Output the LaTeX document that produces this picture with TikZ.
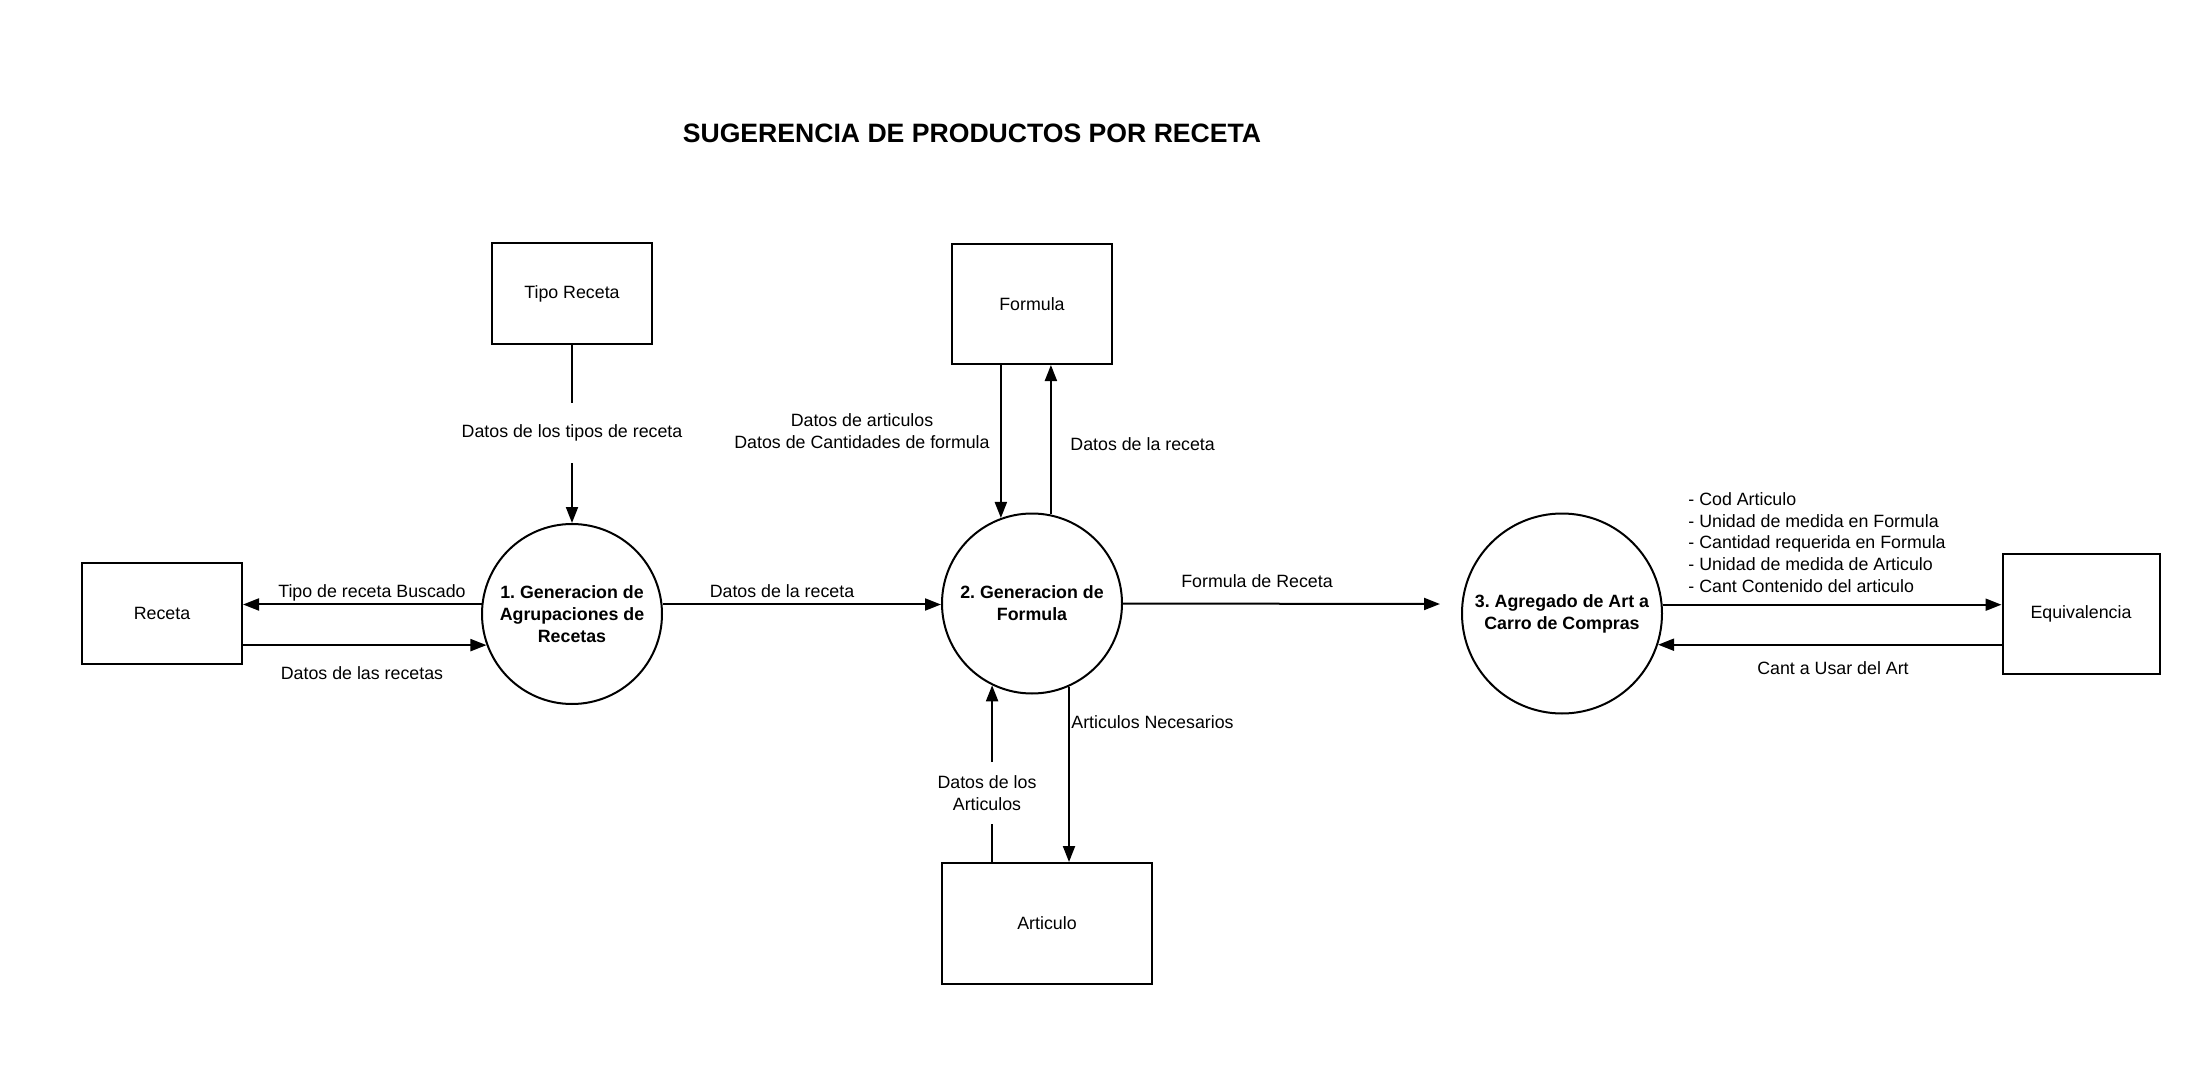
\documentclass[tikz,border=0pt]{standalone}
\usepackage{fontspec}
\setmainfont{Liberation Sans}
\usetikzlibrary{arrows.meta}
\newcommand\lblfont{\fontsize{8.9}{10.9}\selectfont}
\frenchspacing
\begin{document}
\begin{tikzpicture}[x=0.5pt,y=-0.5pt,
  every node/.style={font=\lblfont},
  store/.style={draw,line width=1pt,inner sep=0pt},
  proc/.style={draw,circle,line width=1pt,inner sep=0pt,align=center,font=\lblfont\bfseries},
  flow/.style={line width=1pt,-{Triangle[length=8pt,width=6pt]}},
  plain/.style={line width=1pt},
  lbl/.style={inner sep=0pt,align=center}]
\useasboundingbox (0,0) rectangle (2192,1070);
\node[font=\fontsize{13.3}{16}\selectfont\bfseries] (title) at (972,133) {SUGERENCIA DE PRODUCTOS POR RECETA};
% stores
\node[store,minimum width=80pt,minimum height=50.5pt] (rec) at (162,613.5) {Receta};
\node[store,minimum width=80pt,minimum height=50.5pt] (tr) at (572,293.5) {Tipo Receta};
\node[store,minimum width=80pt,minimum height=60pt] (form) at (1032,304) {Formula};
\node[store,minimum width=105pt,minimum height=60.5pt] (art) at (1047,923.5) {Articulo};
\node[store,minimum width=78.5pt,minimum height=60pt] (eq) at (2081,613.5) {Equivalencia};
% processes
\node[proc,minimum size=90pt] (c1) at (572,614) {1. Generacion de\\Agrupaciones de\\Recetas};
\node[proc,minimum size=90pt] (c2) at (1032,603.5) {2. Generacion de\\Formula};
\node[proc,minimum size=100pt] (c3) at (1562,613.5) {3. Agregado de Art a\\Carro de Compras};
\coordinate (c3in) at (1440,604);
% labels
\node[lbl,minimum height=30pt] (lt) at (572,433) {Datos de los tipos de receta};
\node[lbl] (l1) at (372,593) {Tipo de receta Buscado};
\node[lbl] (l2) at (362,673) {Datos de las recetas};
\node[lbl] (l3) at (782,591) {Datos de la receta};
\node[lbl] (l4) at (862,431) {Datos de articulos\\Datos de Cantidades de formula};
\node[lbl,anchor=west] (l5) at (1070,444) {Datos de la receta};
\node[lbl] (l6) at (1257,581) {Formula de Receta};
\node[lbl,anchor=north west,align=left] (l7) at (1688,492) {- Cod Articulo\\- Unidad de medida en Formula\\- Cantidad requerida en Formula\\- Unidad de medida de Articulo\\- Cant Contenido del articulo};
\node[lbl] (l8) at (1833,668) {Cant a Usar del Art};
\node[lbl,anchor=west] (l9) at (1071,722) {Articulos Necesarios};
\node[lbl,minimum height=30.5pt] (la) at (987,793) {Datos de los\\Articulos};
% connectors
\draw[plain] (tr.south) -- (lt.north);
\draw[flow] (lt.south) -- (c1.north);
\draw[flow] (c1.174) -- (c1.174 -| rec.east);
\draw[flow] (rec.east |- c1.200) -- (c1.200);
\draw[flow] (c1.6) -- (c1.6 -| c2.west);
\draw[flow] (form.south -| c2.110) -- (c2.110);
\draw[flow] (c2.78) -- (c2.78 |- form.south);
\draw[flow] (c2.east) -- (c3in);
\draw[flow] (c3.5) -- (c3.5 -| eq.west);
\draw[flow] (eq.west |- c3.-18) -- (c3.-18);
\draw[flow] (c2.294) -- (c2.294 |- art.north);
\draw[plain] (art.north -| c2.244) -- (la.south -| c2.244);
\draw[flow] (la.north -| c2.244) -- (c2.244);
\end{tikzpicture}
\end{document}
